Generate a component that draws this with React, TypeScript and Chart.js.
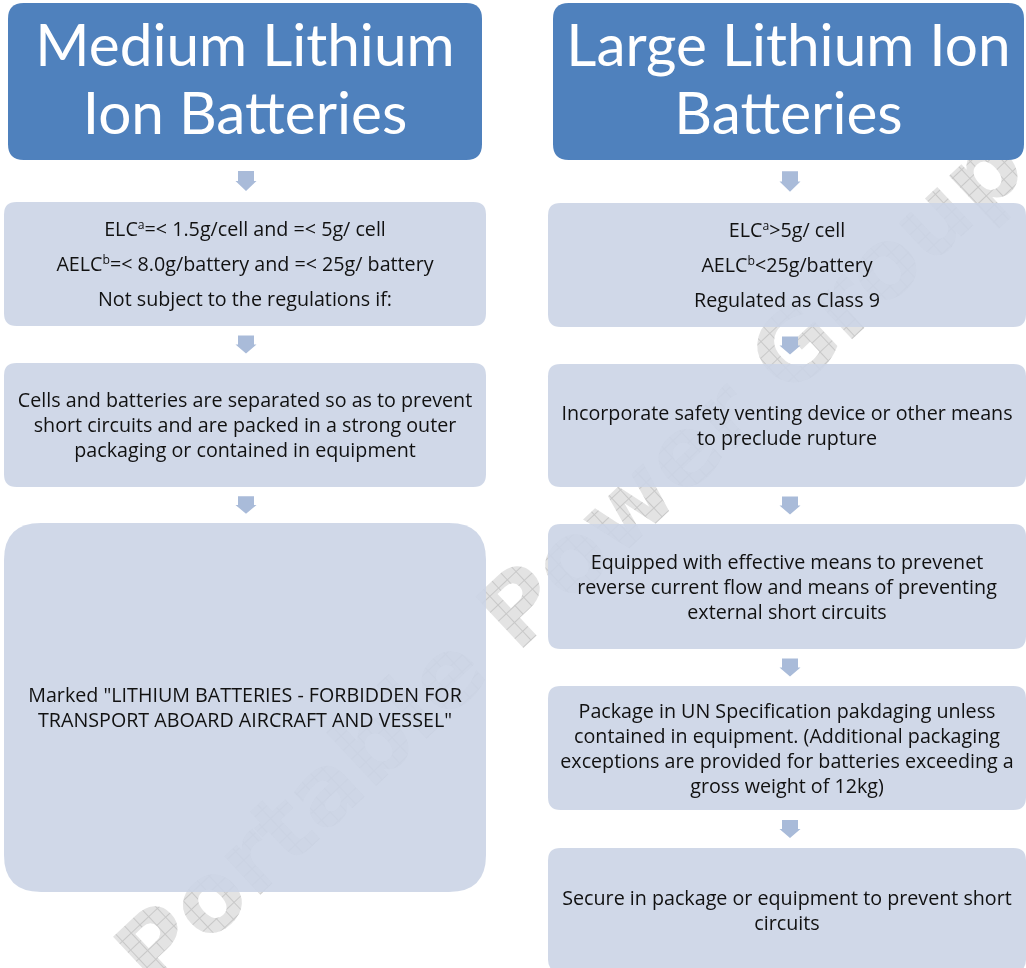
import { useEffect, useRef } from "react";
import { Chart, registerables } from "chart.js";
Chart.register(...registerables);

const CANVAS_W = 1026;
const CANVAS_H = 968;

const headerTitles = [["Medium Lithium", "Ion Batteries"], ["Large Lithium Ion", "Batteries"]];
const headerLeft = [8, 553];
const headerRight = [482, 1024];
const headerTop = 3;
const headerBottom = 160;

const columnLeft = [4, 548];
const columnRight = [486, 1026];
const columnArrowX = [246, 790];

const leftSteps = [
  [["ELC{a}=< 1.5g/cell and =< 5g/ cell"], ["AELC{b}=< 8.0g/battery and =< 25g/ battery"], ["Not subject to the regulations if:"]],
  [["Cells and batteries are separated so as to prevent", "short circuits and are packed in a strong outer", "packaging or contained in equipment"]],
  [['Marked "LITHIUM BATTERIES - FORBIDDEN FOR', 'TRANSPORT ABOARD AIRCRAFT AND VESSEL"']],
];
const leftStepTop = [202, 363, 523];
const leftStepBottom = [326, 487, 892];

const rightSteps = [
  [["ELC{a}>5g/ cell"], ["AELC{b}<25g/battery"], ["Regulated as Class 9"]],
  [["Incorporate safety venting device or other means", "to preclude rupture"]],
  [["Equipped with effective means to prevenet", "reverse current flow and means of preventing", "external short circuits"]],
  [["Package in UN Specification pakdaging unless", "contained in equipment. (Additional packaging", "exceptions are provided for batteries exceeding a", "gross weight of 12kg)"]],
  [["Secure in package or equipment to prevent short", "circuits"]],
];
const rightStepTop = [203, 364, 524, 686, 848];
const rightStepBottom = [327, 487, 649, 810, 972];

const watermarkText = "Portable Power Group";

const columns = [
  { steps: leftSteps, tops: leftStepTop, bottoms: leftStepBottom },
  { steps: rightSteps, tops: rightStepTop, bottoms: rightStepBottom },
];

const BODY_FONT = "'Open Sans', Lato, sans-serif";
const HEADER_FONT = "Lato, 'Open Sans', sans-serif";
const BODY_SIZE = 19.7;
const HEADER_SIZE = 58.5;
const LINE_PITCH = 25;
const PARA_PITCH = 35;

function roundRect(ctx: CanvasRenderingContext2D, x0: number, y0: number, x1: number, y1: number) {
  const r = 0.1 * Math.min(x1 - x0, y1 - y0);
  ctx.beginPath();
  ctx.moveTo(x0 + r, y0);
  ctx.lineTo(x1 - r, y0);
  ctx.quadraticCurveTo(x1, y0, x1, y0 + r);
  ctx.lineTo(x1, y1 - r);
  ctx.quadraticCurveTo(x1, y1, x1 - r, y1);
  ctx.lineTo(x0 + r, y1);
  ctx.quadraticCurveTo(x0, y1, x0, y1 - r);
  ctx.lineTo(x0, y0 + r);
  ctx.quadraticCurveTo(x0, y0, x0 + r, y0);
  ctx.closePath();
}

function drawRich(ctx: CanvasRenderingContext2D, text: string, cx: number, baseline: number, size: number, color: string) {
  const parts = text.split(/\{(\w)\}/);
  const supSize = size * 0.62;
  let total = 0;
  const widths: number[] = [];
  parts.forEach((p, i) => {
    ctx.font = `${i % 2 ? supSize : size}px ${BODY_FONT}`;
    const w = ctx.measureText(p).width;
    widths.push(w);
    total += w;
  });
  let x = cx - total / 2;
  ctx.fillStyle = color;
  ctx.textAlign = "left";
  ctx.textBaseline = "alphabetic";
  parts.forEach((p, i) => {
    const sup = i % 2 === 1;
    ctx.font = `${sup ? supSize : size}px ${BODY_FONT}`;
    ctx.fillText(p, x, sup ? baseline - size * 0.36 : baseline);
    x += widths[i];
  });
}

function drawArrow(ctx: CanvasRenderingContext2D, cx: number, top: number, bottom: number) {
  const h = bottom - top;
  const shaftW = 16;
  const headW = 21;
  const headTop = top + h * 0.5;
  ctx.fillStyle = "#a9bbd9";
  ctx.beginPath();
  ctx.moveTo(cx - shaftW / 2, top);
  ctx.lineTo(cx + shaftW / 2, top);
  ctx.lineTo(cx + shaftW / 2, headTop);
  ctx.lineTo(cx + headW / 2, headTop);
  ctx.lineTo(cx, bottom);
  ctx.lineTo(cx - headW / 2, headTop);
  ctx.lineTo(cx - shaftW / 2, headTop);
  ctx.closePath();
  ctx.fill();
}

const flowPlugin = {
  id: "flowchart",
  beforeDatasetsDraw(chart: any) {
    const { ctx } = chart;
    const xs = chart.scales.x;
    const ys = chart.scales.y;
    const px = (v: number) => xs.getPixelForValue(v);
    const py = (v: number) => ys.getPixelForValue(v);
    ctx.save();

    // watermark
    const tile = document.createElement("canvas");
    tile.width = 12;
    tile.height = 12;
    const tctx = tile.getContext("2d")!;
    tctx.fillStyle = "#e3e3e3";
    tctx.fillRect(0, 0, 12, 12);
    tctx.fillStyle = "#c8c8c8";
    tctx.fillRect(0, 0, 12, 1);
    tctx.fillRect(0, 0, 1, 12);
    const pattern = ctx.createPattern(tile, "repeat");
    ctx.save();
    ctx.translate(px(575), py(565));
    ctx.rotate(-Math.PI * 0.24);
    ctx.font = "bold 100px 'DejaVu Sans', sans-serif";
    const wmW = ctx.measureText(watermarkText).width;
    const wmSize = 100 * 1200 / wmW;
    ctx.font = `bold ${wmSize}px 'DejaVu Sans', sans-serif`;
    ctx.textAlign = "center";
    ctx.textBaseline = "middle";
    ctx.fillStyle = pattern || "#e3e3e3";
    ctx.fillText(watermarkText, 0, 0);
    ctx.restore();

    columns.forEach((col, c) => {
      // header
      const hx0 = px(headerLeft[c]);
      const hx1 = px(headerRight[c]);
      const hy0 = py(headerTop);
      const hy1 = py(headerBottom);
      roundRect(ctx, hx0, hy0, hx1, hy1);
      ctx.fillStyle = "#4f81bd";
      ctx.fill();
      ctx.fillStyle = "#ffffff";
      ctx.font = `${HEADER_SIZE}px ${HEADER_FONT}`;
      ctx.textAlign = "center";
      ctx.textBaseline = "alphabetic";
      const hcx = (hx0 + hx1) / 2;
      const hcy = (hy0 + hy1) / 2;
      const lines = headerTitles[c];
      const hPitch = 68;
      lines.forEach((t, i) => {
        const center = hcy - 2 + (i - (lines.length - 1) / 2) * hPitch;
        ctx.fillText(t, hcx, center + HEADER_SIZE * 0.35);
      });

      const x0 = px(columnLeft[c]);
      const x1 = px(columnRight[c]);
      const cx = (x0 + x1) / 2;
      const ax = px(columnArrowX[c]);

      // arrows
      let prevBottom = hy1;
      col.tops.forEach((t, i) => {
        const gapTop = prevBottom;
        const gapBottom = py(t);
        const gap = gapBottom - gapTop;
        const ah = gap * 0.48;
        const mid = (gapTop + gapBottom) / 2;
        drawArrow(ctx, ax, mid - ah / 2, mid + ah / 2);
        prevBottom = py(col.bottoms[i]);
      });

      // step boxes
      col.steps.forEach((paras, i) => {
        const y0 = py(col.tops[i]);
        const y1 = py(col.bottoms[i]);
        roundRect(ctx, x0, y0, x1, y1);
        ctx.fillStyle = "rgba(203, 212, 230, 0.9)";
        ctx.fill();
        const centers: number[] = [];
        let yy = 0;
        paras.forEach((p) => {
          p.forEach((_, li) => {
            if (centers.length > 0) yy += li === 0 ? PARA_PITCH : LINE_PITCH;
            centers.push(yy);
          });
        });
        const off = (y0 + y1) / 2 - yy / 2;
        let k = 0;
        paras.forEach((p) => {
          p.forEach((line) => {
            drawRich(ctx, line, cx, off + centers[k] + BODY_SIZE * 0.36, BODY_SIZE, "#111111");
            k++;
          });
        });
      });
    });
    ctx.restore();
  },
};

export default function App() {
  const ref = useRef<HTMLCanvasElement | null>(null);
  useEffect(() => {
    if (!ref.current) return;
    const chart = new Chart(ref.current, {
      type: "scatter",
      data: {
        datasets: [
          {
            label: "Medium Lithium Ion Batteries",
            data: leftStepTop.map((t, i) => ({ x: (columnLeft[0] + columnRight[0]) / 2, y: (t + leftStepBottom[i]) / 2 })),
            pointRadius: 0,
          },
          {
            label: "Large Lithium Ion Batteries",
            data: rightStepTop.map((t, i) => ({ x: (columnLeft[1] + columnRight[1]) / 2, y: (t + rightStepBottom[i]) / 2 })),
            pointRadius: 0,
          },
        ],
      },
      options: {
        animation: false,
        responsive: false,
        maintainAspectRatio: false,
        layout: { padding: 0 },
        events: [],
        plugins: { legend: { display: false }, tooltip: { enabled: false }, title: { display: false } },
        scales: {
          x: { type: "linear", min: 0, max: CANVAS_W, display: false },
          y: { type: "linear", min: 0, max: CANVAS_H, reverse: true, display: false },
        },
      },
      plugins: [flowPlugin],
    });
    return () => chart.destroy();
  }, []);
  return (
    <div style={{ position: "absolute", left: 0, top: 0, width: CANVAS_W, height: CANVAS_H, background: "#fff" }}>
      <canvas ref={ref} width={CANVAS_W} height={CANVAS_H} style={{ display: "block", width: CANVAS_W, height: CANVAS_H }} />
    </div>
  );
}
